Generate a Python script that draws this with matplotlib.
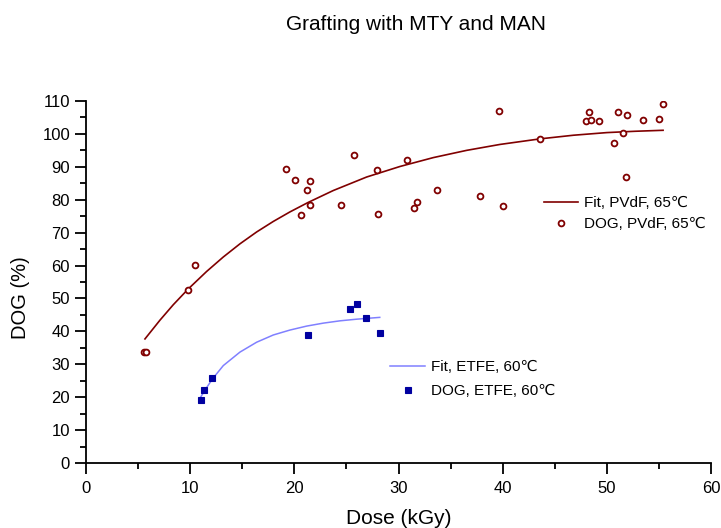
import matplotlib
matplotlib.use("Agg")
import matplotlib.pyplot as plt
from matplotlib.ticker import MultipleLocator

plt.rcParams['font.family'] = ['Liberation Sans', 'DejaVu Sans']

# PVdF data (65 C)
pvdf_dose = [5.6, 5.8, 9.82, 10.43, 19.17, 20.06, 21.47, 21.18, 21.47, 20.67, 25.7, 24.48,
             27.9, 28.0, 30.77, 33.7, 31.8, 31.5, 39.6, 37.85, 40.03, 43.6, 48.25, 48.03,
             48.5, 49.2, 51.07, 51.9, 50.65, 51.57, 51.87, 53.47, 54.97, 55.39]
pvdf_dog = [33.8, 33.6, 52.5, 60.2, 89.4, 85.9, 85.8, 82.9, 78.3, 75.4, 93.7, 78.4,
            89.1, 75.7, 92.2, 82.9, 79.2, 77.4, 106.9, 81.2, 78.1, 98.6, 106.6, 103.8,
            104.2, 104.0, 106.7, 105.6, 97.3, 100.4, 87.0, 104.1, 104.4, 109.2]

# PVdF fit curve
pvdf_fit_x = [5.66, 7.10, 8.38, 9.82, 11.58, 13.18, 14.78, 16.38, 17.98, 19.58, 21.34,
              23.74, 26.94, 30.14, 33.34, 36.54, 39.74, 43.6, 46.8, 50.0, 52.7, 55.4]
pvdf_fit_y = [37.7, 43.4, 48.1, 52.9, 58.2, 62.6, 66.6, 70.2, 73.4, 76.3, 79.2,
              82.8, 86.9, 90.1, 92.8, 95.0, 96.8, 98.5, 99.6, 100.4, 100.8, 101.1]

# ETFE data (60 C)
etfe_dose = [11.04, 11.33, 12.13, 21.34, 25.37, 25.98, 26.88, 28.19]
etfe_dog = [19.2, 22.1, 25.9, 38.9, 46.7, 48.3, 44.2, 39.5]

# ETFE fit curve
etfe_fit_x = [11.04, 11.6, 12.13, 13.18, 14.78, 16.38, 17.98, 19.58, 21.18, 22.78, 24.38, 25.98, 28.2]
etfe_fit_y = [20.2, 23.0, 25.5, 29.6, 33.7, 36.7, 38.9, 40.4, 41.6, 42.5, 43.2, 43.7, 44.25]

W, H = 721, 528
fig = plt.figure(figsize=(W / 100, H / 100), dpi=100)
ax = fig.add_axes([86 / W, 1 - 463 / H, (711 - 86) / W, (463 - 101) / H])

red = '#800000'
blue_line = '#8080FF'
blue_pt = '#0000A0'

l1, = ax.plot(pvdf_fit_x, pvdf_fit_y, color=red, lw=1.2, label='Fit, PVdF, 65\u2103')
p1, = ax.plot(pvdf_dose, pvdf_dog, linestyle='none', marker='o', markersize=4.2,
              markerfacecolor='white', markeredgecolor=red, markeredgewidth=1.3,
              label='DOG, PVdF, 65\u2103')
l2, = ax.plot(etfe_fit_x, etfe_fit_y, color=blue_line, lw=1.1, label='Fit, ETFE, 60\u2103')
p2, = ax.plot(etfe_dose, etfe_dog, linestyle='none', marker='s', markersize=4,
              markerfacecolor=blue_pt, markeredgecolor=blue_pt, markeredgewidth=0.8,
              label='DOG, ETFE, 60\u2103')

ax.set_xlim(0, 60)
ax.set_ylim(0, 110)
ax.xaxis.set_major_locator(MultipleLocator(10))
ax.xaxis.set_minor_locator(MultipleLocator(5))
ax.yaxis.set_major_locator(MultipleLocator(10))
ax.yaxis.set_minor_locator(MultipleLocator(5))
for s in ['top', 'right']:
    ax.spines[s].set_visible(False)
for s in ['left', 'bottom']:
    ax.spines[s].set_linewidth(1.3)
ax.tick_params(which='major', direction='out', length=8, width=1.3, labelsize=12)
ax.tick_params(which='minor', direction='out', length=4, width=1.3)
ax.tick_params(axis='x', pad=5)

fig.text(398.5 / W, 1 - 518 / H, 'Dose (kGy)', ha='center', va='center', fontsize=15)
fig.text(20 / W, 1 - 298 / H, 'DOG (%)', ha='center', va='center', rotation=90, fontsize=14.5)

fig.text(416 / W, 1 - 24 / H, 'Grafting with MTY and MAN', ha='center', va='center', fontsize=15)

leg1 = ax.legend(handles=[l1, p1], loc='upper left',
                 bbox_to_anchor=(544 / W, 1 - 196 / H), bbox_transform=fig.transFigure,
                 frameon=False, fontsize=11, handlelength=2.2, handletextpad=0.4,
                 labelspacing=0.48, borderpad=0, borderaxespad=0, numpoints=1)
ax.add_artist(leg1)
leg2 = ax.legend(handles=[l2, p2], loc='upper left',
                 bbox_to_anchor=(390 / W, 1 - 360 / H), bbox_transform=fig.transFigure,
                 frameon=False, fontsize=11, handlelength=2.3, handletextpad=0.4,
                 labelspacing=0.67, borderpad=0, borderaxespad=0, numpoints=1)

fig.savefig('out.png', dpi=100)
